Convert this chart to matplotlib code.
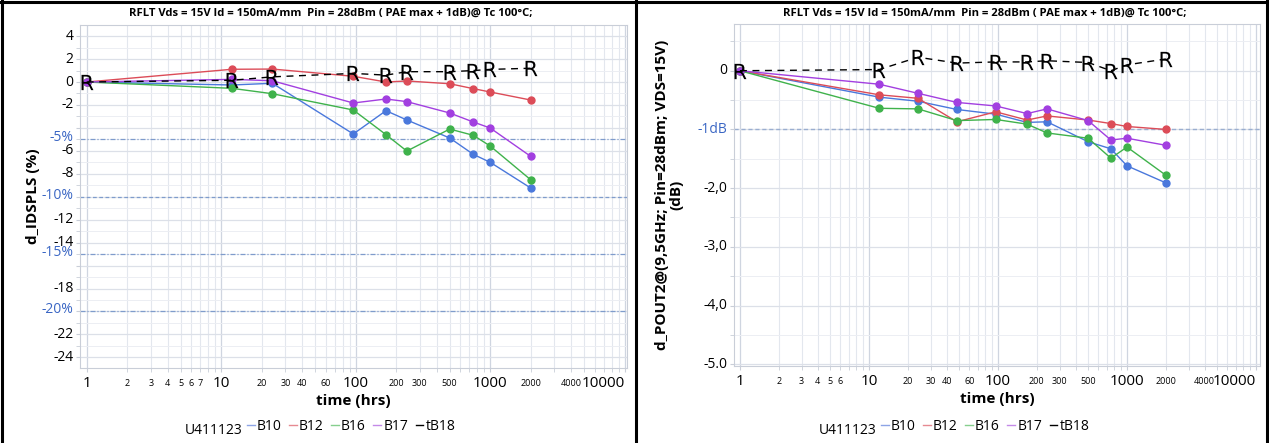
import matplotlib
matplotlib.use("Agg")
import matplotlib.pyplot as plt
from matplotlib.lines import Line2D
from matplotlib.ticker import FixedLocator, NullFormatter

plt.rcParams["font.family"] = ["Open Sans", "DejaVu Sans"]

# ---- data ----
series = ["B10", "B12", "B16", "B17"]
colors = ["#4a78dc", "#dc4c58", "#3fb24b", "#a23fe0"]
legend_colors = ["#8da4e6", "#e68a92", "#86cf8e", "#c48ae8"]

left_t = [1, 12, 24, 96, 168, 240, 500, 750, 1000, 2000]
left_b10 = [0, -0.26, -0.11, -4.53, -2.50, -3.31, -4.88, -6.31, -7.00, -9.24]
left_b12 = [0, 1.11, 1.13, 0.50, 0.00, 0.09, -0.15, -0.58, -0.87, -1.57]
left_b16 = [0, -0.55, -1.02, -2.44, -4.59, -6.02, -4.10, -4.65, -5.58, -8.52]
left_b17 = [0, 0.23, 0.11, -1.83, -1.48, -1.71, -2.70, -3.49, -4.01, -6.48]
left_tb18 = [0, 0.15, 0.45, 0.75, 0.60, 0.90, 0.90, 1.00, 1.10, 1.20]

right_t = [1, 12, 24, 48, 96, 168, 240, 500, 750, 1000, 2000]
right_b10 = [0, -0.45, -0.52, -0.66, -0.74, -0.88, -0.87, -1.21, -1.33, -1.62, -1.91]
right_b12 = [0, -0.41, -0.47, -0.87, -0.70, -0.84, -0.77, -0.84, -0.90, -0.95, -1.00]
right_b16 = [0, -0.64, -0.65, -0.85, -0.83, -0.91, -1.06, -1.15, -1.49, -1.30, -1.78]
right_b17 = [0, -0.23, -0.385, -0.54, -0.60, -0.73, -0.65, -0.85, -1.18, -1.15, -1.27]
right_tb18 = [0, 0.02, 0.23, 0.13, 0.15, 0.15, 0.17, 0.14, 0.00, 0.10, 0.20]

left_limits = [-5, -10, -15, -20]
left_limit_labels = ["-5%", "-10%", "-15%", "-20%"]
left_yticks = [4, 2, 0, -2, -6, -8, -12, -14, -18, -22, -24]
right_limits = [-1]
right_limit_labels = ["-1dB"]
right_yticks = [0, -2, -3, -4, -5]
right_ytick_labels = ["0", "-2,0", "-3,0", "-4,0", "-5.0"]

x_major = [1, 10, 100, 1000, 10000]
left_x_minor = [2, 3, 4, 5, 6, 7, 20, 30, 40, 60, 200, 300, 500, 2000, 4000]
right_x_minor = [2, 3, 4, 5, 6, 20, 30, 40, 60, 200, 300, 500, 2000, 4000]

title = "RFLT Vds = 15V Id = 150mA/mm  Pin = 28dBm ( PAE max + 1dB)@ Tc 100°C;"
lot = "U411123"

W, H = 1269, 443
fig = plt.figure(figsize=(W / 100, H / 100), dpi=100)


def px(x0, y0, x1, y1):
    return [x0 / W, 1 - y1 / H, (x1 - x0) / W, (y1 - y0) / H]


def style_axes(ax, xmin, xmax, minor_lbls):
    ax.set_xscale("log")
    ax.set_xlim(xmin, xmax)
    for s in ax.spines.values():
        s.set_color("#c9ced8")
        s.set_linewidth(0.8)
    all_minor = [m * 10 ** d for d in range(4) for m in range(2, 10)]
    ax.xaxis.set_major_locator(FixedLocator(x_major))
    ax.set_xticklabels([str(v) for v in x_major], fontsize=11)
    ax.xaxis.set_minor_locator(FixedLocator(all_minor))
    ax.xaxis.set_minor_formatter(NullFormatter())
    for v in minor_lbls:
        ax.text(v, -0.033, str(v), transform=ax.get_xaxis_transform(),
                ha="center", va="top", fontsize=6.5)
    ax.grid(True, which="major", axis="x", color="#cfd5e0", lw=0.9)
    ax.grid(True, which="minor", axis="x", color="#e3e7ee", lw=0.8)
    ax.tick_params(axis="both", which="both", color="#c9ced8", length=3)
    ax.tick_params(axis="x", which="major", pad=3)
    ax.set_xlabel("time (hrs)", fontsize=11, fontweight="bold", labelpad=2)


def draw_series(ax, t, ys, tb):
    for y, c in zip(ys, colors):
        ax.plot(t, y, color=c, lw=1.0, marker="o", ms=5, zorder=3)
    ax.plot(t, tb, color="black", lw=1.0, ls=(0, (5, 4)), zorder=4)
    ax.plot(t, tb, ls="none", marker=r"$\mathrm{R}$", ms=11, mew=0,
            color="black", zorder=5)


def draw_legend(ax, xfig):
    handles = [Line2D([], [], color=c, lw=1.0) for c in legend_colors]
    handles.append(Line2D([], [], color="black", lw=1.0))
    labels = series + ["tB18"]
    ax.legend(handles, labels, loc="center left", bbox_to_anchor=(xfig, 1 - 426 / H),
              bbox_transform=fig.transFigure, ncol=5, frameon=False,
              handlelength=0.55, handletextpad=0.15, columnspacing=0.55,
              fontsize=10, borderaxespad=0, borderpad=0)


# ---- left panel ----
ax1 = fig.add_axes(px(80, 25, 627, 368))
style_axes(ax1, 0.892, 10400, left_x_minor)
ax1.set_ylim(-24.93, 4.97)
ax1.yaxis.set_major_locator(FixedLocator(list(range(-24, 5, 2))))
ax1.yaxis.set_minor_locator(FixedLocator(list(range(-25, 5, 1))))
ax1.set_yticklabels([])
ax1.grid(True, which="major", axis="y", color="#dce0e8", lw=0.9)
ax1.grid(True, which="minor", axis="y", color="#eceef3", lw=0.7)
for v in left_yticks:
    ax1.text(-0.012, v, str(v), transform=ax1.get_yaxis_transform(),
             ha="right", va="center", fontsize=10)
for v, lbl in zip(left_limits, left_limit_labels):
    ls = (0, (3, 2)) if v == -10 else (0, (4, 1.5, 1, 1.5))
    ax1.axhline(v, color="#7f9ccc", lw=0.9, ls=ls, zorder=2)
    ax1.text(-0.012, v + 0.15, lbl, transform=ax1.get_yaxis_transform(),
             ha="right", va="center", fontsize=10, color="#3a66c4")
draw_series(ax1, left_t, [left_b10, left_b12, left_b16, left_b17], left_tb18)
ax1.set_ylabel("d_IDSPLS (%)", fontsize=11, fontweight="bold", labelpad=22)
fig.text(331 / W, 1 - 13 / H, title, ha="center", va="center", fontsize=8.1, fontweight="bold")
fig.text(185 / W, 1 - 430 / H, lot, ha="left", va="center", fontsize=10)
draw_legend(ax1, 247 / W)

# ---- right panel ----
ax2 = fig.add_axes(px(734, 24, 1260, 366))
style_axes(ax2, 0.899, 10740, right_x_minor)
ax2.set_ylim(-5.03, 0.796)
ax2.yaxis.set_major_locator(FixedLocator([0, -1, -2, -3, -4, -5]))
ax2.yaxis.set_minor_locator(FixedLocator([0.5, -0.5, -1.5, -2.5, -3.5, -4.5]))
ax2.set_yticklabels([])
ax2.grid(True, which="major", axis="y", color="#dce0e8", lw=0.9)
ax2.grid(True, which="minor", axis="y", color="#eceef3", lw=0.7)
for v, lbl in zip(right_yticks, right_ytick_labels):
    ax2.text(-0.012, v, lbl, transform=ax2.get_yaxis_transform(),
             ha="right", va="center", fontsize=10)
for v, lbl in zip(right_limits, right_limit_labels):
    ax2.axhline(v, color="#9aaed0", lw=1.0, ls=(0, (3, 2)), zorder=2)
    ax2.text(-0.012, v, lbl, transform=ax2.get_yaxis_transform(),
             ha="right", va="center", fontsize=10, color="#3a66c4")
draw_series(ax2, right_t, [right_b10, right_b12, right_b16, right_b17], right_tb18)
ax2.set_ylabel("d_POUT2@(9,5GHz; Pin=28dBm; VDS=15V)\n(dB)", fontsize=11,
               fontweight="bold", labelpad=30, linespacing=1.0)
fig.text(985 / W, 1 - 13 / H, title, ha="center", va="center", fontsize=8.1, fontweight="bold")
fig.text(819 / W, 1 - 430 / H, lot, ha="left", va="center", fontsize=10)
draw_legend(ax2, 881 / W)

# last major label sits flush with the right edge, like the reference
for ax in (ax1, ax2):
    ax.xaxis.get_major_ticks()[-1].label1.set_horizontalalignment("right")

# ---- table borders ----
for (x0, y0, x1, y1) in [(0, 2, W, 2), (2, 0, 2, H), (636, 0, 636, H), (W - 2, 0, W - 2, H)]:
    fig.add_artist(Line2D([x0 / W, x1 / W], [1 - y0 / H, 1 - y1 / H],
                          transform=fig.transFigure, color="black", lw=2.2))

fig.savefig("out.png", dpi=100)
